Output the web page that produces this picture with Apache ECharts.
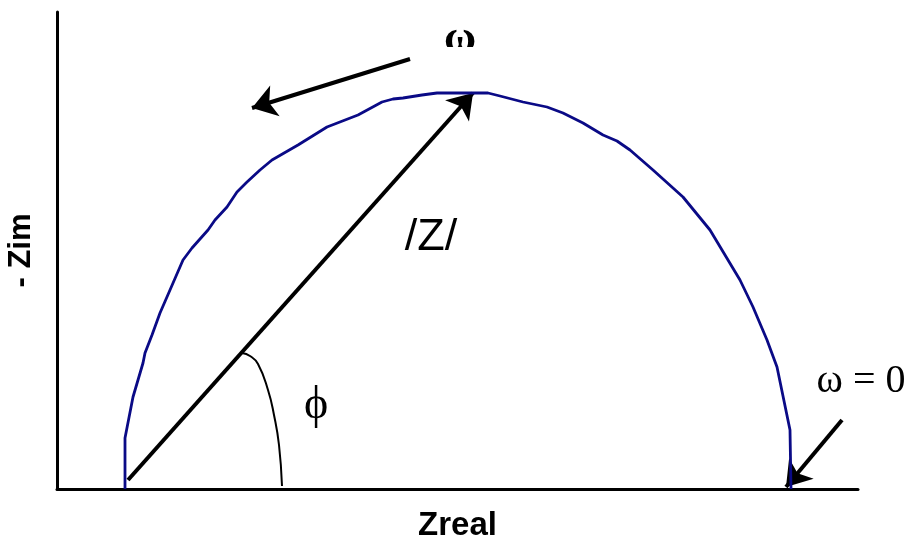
<!DOCTYPE html>
<html>
<head>
<meta charset="utf-8">
<title>Nyquist plot</title>
<script src="https://cdn.jsdelivr.net/npm/echarts@6/dist/echarts.min.js"></script>
<style>
  html, body { margin: 0; padding: 0; background: #fff; }
  #chart { width: 911px; height: 537px; }
</style>
</head>
<body>
<div id="chart"></div>
<script>
// Impedance locus: real part and negative imaginary part (arbitrary units)
const zReal = [68, 68, 76, 86, 88, 95, 103, 113, 126, 135, 151, 158, 170, 180, 190, 203,
  215, 241, 270, 301, 325, 336, 346, 365, 380, 431, 443, 466, 490, 506, 526, 546, 560,
  573, 596, 626, 653, 683, 696, 710, 720, 733, 734];
const zImagNeg = [0, 51, 92, 126, 136, 154, 176, 199, 229, 241, 259, 269, 282, 297, 307, 319,
  329, 344, 362, 374, 387, 390, 391, 394, 396, 396, 393, 387, 382, 376, 366, 354, 348,
  339, 319, 292, 259, 209, 182, 149, 122, 59, 0];

// Phase-angle arc drawn from the |Z| vector down to the real axis
const phiArcReal = [185, 193, 201, 211, 217, 222, 225];
const phiArcImag = [136, 133, 125, 99, 74, 44, 3];

// Arrow segments: [startRe, startIm, endRe, endIm]
const arrowModulus = [71, 9, 416, 396];
const arrowOmega = [353, 430, 195, 381];
const arrowOmegaZero = [785, 69, 729, 2];

// Text annotations and their anchor points
const annotationText = ['/Z/', 'ϕ', 'ω = 0', 'ω'];
const annotationRe = [374, 259, 804, 403];
const annotationIm = [251, 83, 108, 449];

const chart = echarts.init(document.getElementById('chart'), null, { renderer: 'canvas' });

const serif = '"Liberation Serif", "DejaVu Serif", serif';
const sans = '"Liberation Sans", Arial, sans-serif';

const labelStyles = [
  { fontFamily: sans, fontSize: 45 },
  { fontFamily: serif, fontSize: 46 },
  { fontFamily: serif, fontSize: 40 },
  { fontFamily: serif, fontSize: 44, fontWeight: 'bold' }
];

const arrowSeg = (a) => ({ coords: [[a[0], a[1]], [a[2], a[3]]] });

const option = {
  animation: false,
  backgroundColor: '#ffffff',
  grid: { left: 57, right: 53, top: 12, bottom: 48, outerBoundsMode: 'none', containLabel: false },
  xAxis: {
    type: 'value', min: 0, max: 801,
    name: 'Zreal', nameLocation: 'middle', nameGap: 20,
    nameTextStyle: { fontFamily: sans, fontWeight: 'bold', fontSize: 33, color: '#000' },
    axisLine: { show: true, lineStyle: { color: '#000', width: 3 } },
    axisTick: { show: false }, axisLabel: { show: false }, splitLine: { show: false }
  },
  yAxis: {
    type: 'value', min: 0, max: 477,
    name: '- Zim', nameLocation: 'middle', nameGap: 20, nameRotate: 90,
    nameTextStyle: { fontFamily: sans, fontWeight: 'bold', fontSize: 31, color: '#000' },
    axisLine: { show: true, lineStyle: { color: '#000', width: 3 } },
    axisTick: { show: false }, axisLabel: { show: false }, splitLine: { show: false }
  },
  series: [
    {
      name: 'impedance',
      type: 'line',
      data: zReal.map((x, i) => [x, zImagNeg[i]]),
      showSymbol: false, symbol: 'none', smooth: false,
      lineStyle: { color: '#0a0a86', width: 2.8 }
    },
    {
      name: 'phase arc',
      type: 'line',
      data: phiArcReal.map((x, i) => [x, phiArcImag[i]]),
      showSymbol: false, symbol: 'none', smooth: 0.5,
      lineStyle: { color: '#000', width: 2 }
    },
    {
      name: 'arrows',
      type: 'lines',
      coordinateSystem: 'cartesian2d',
      symbol: ['none', 'arrow'],
      symbolSize: 24,
      lineStyle: { color: '#000', width: 4, opacity: 1 },
      data: [arrowSeg(arrowModulus), arrowSeg(arrowOmega), arrowSeg(arrowOmegaZero)]
    },
    {
      name: 'annotations',
      type: 'scatter',
      symbolSize: 0,
      clip: false,
      z: 5,
      itemStyle: { opacity: 1, color: '#000' },
      data: annotationText.map((t, i) => ({
        value: [annotationRe[i], annotationIm[i]],
        label: Object.assign({
          show: true, position: 'inside', formatter: t, color: '#000', opacity: 1,
          textBorderWidth: 0
        }, labelStyles[i])
      }))
    }
  ]
};

chart.setOption(option);

// The top omega label is cut off along its lower part
const cutTop = chart.convertToPixel({ gridIndex: 0 }, [383, 442]);
const cutBottom = chart.convertToPixel({ gridIndex: 0 }, [425, 425]);
chart.setOption({
  graphic: [{
    type: 'rect', z: 100,
    shape: { x: cutTop[0], y: cutTop[1], width: cutBottom[0] - cutTop[0], height: cutBottom[1] - cutTop[1] },
    style: { fill: '#ffffff' }
  }]
});
</script>
</body>
</html>
